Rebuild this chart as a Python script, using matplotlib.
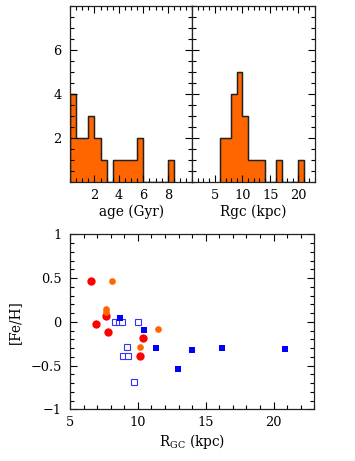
import numpy as np
import matplotlib
matplotlib.use("Agg")
import matplotlib.pyplot as plt
from matplotlib.ticker import MultipleLocator, FixedLocator

plt.rcParams['font.family'] = ['DejaVu Serif']
plt.rcParams['mathtext.fontset'] = 'dejavuserif'
plt.rcParams['axes.unicode_minus'] = True

# ---- histogram data ----
age_edges = np.arange(0, 9.0, 0.5)           # 0 .. 8.5
age_counts = [4, 2, 2, 3, 2, 1, 0, 1, 1, 1, 1, 2, 0, 0, 0, 0, 1]
rgc_edges = np.arange(6, 22, 1)              # 6 .. 21
rgc_counts = [2, 2, 4, 5, 3, 1, 1, 1, 0, 0, 1, 0, 0, 0, 1]

# ---- scatter data ----
red_x = [6.55, 6.92, 7.68, 7.78, 10.38, 10.16]
red_y = [0.465, -0.03, 0.07, -0.12, -0.19, -0.385]
orange_x = [8.10, 7.63, 7.63, 11.50, 10.19]
orange_y = [0.47, 0.15, 0.11, -0.08, -0.29]
bfill_x = [8.66, 10.48, 11.30, 12.99, 14.02, 16.19, 20.83]
bfill_y = [0.04, -0.095, -0.30, -0.54, -0.32, -0.30, -0.31]
bopen_x = [8.35, 8.60, 8.85, 9.99, 9.23, 8.91, 9.25, 9.72]
bopen_y = [0.0, 0.0, 0.0, 0.0, -0.29, -0.39, -0.39, -0.69]

ORANGE = '#FF6600'
fs = 9.3
lfs = 9.8

fig = plt.figure(figsize=(3.55, 4.61), dpi=100)
axA = fig.add_axes([0.1969, 0.6059, 0.3448, 0.3811])
axB = fig.add_axes([0.5417, 0.6059, 0.3456, 0.3811])
axS = fig.add_axes([0.1972, 0.1121, 0.6882, 0.3796])

def style(ax):
    ax.tick_params(which='both', direction='in', top=True, right=True,
                   labelsize=fs, width=0.8, colors='black')
    ax.tick_params(which='major', length=5)
    ax.tick_params(which='minor', length=2.8)
    for s in ax.spines.values():
        s.set_linewidth(0.9)
        s.set_color('#222222')

# age histogram
axA.stairs(age_counts, age_edges, fill=True, facecolor=ORANGE,
           edgecolor='black', linewidth=0.9)
axA.stairs(age_counts, age_edges, fill=False, color='#222222', linewidth=0.9)
axA.set_xlim(0, 10)
axA.set_ylim(0, 8)
style(axA)
axA.xaxis.set_major_locator(FixedLocator([2, 4, 6, 8]))
axA.xaxis.set_minor_locator(MultipleLocator(0.5))
axA.yaxis.set_major_locator(FixedLocator([2, 4, 6]))
axA.yaxis.set_minor_locator(MultipleLocator(0.5))
axA.tick_params(axis='y', pad=6)
axA.tick_params(axis='x', pad=5)
axA.set_xlabel('age (Gyr)', fontsize=lfs, labelpad=2)

# Rgc histogram
axB.stairs(rgc_counts, rgc_edges, fill=True, facecolor=ORANGE,
           edgecolor='black', linewidth=0.9)
axB.stairs(rgc_counts, rgc_edges, fill=False, color='#222222', linewidth=0.9)
axB.set_xlim(1, 23)
axB.set_ylim(0, 8)
style(axB)
axB.xaxis.set_major_locator(FixedLocator([5, 10, 15, 20]))
axB.xaxis.set_minor_locator(MultipleLocator(1))
axB.yaxis.set_major_locator(FixedLocator([2, 4, 6]))
axB.yaxis.set_minor_locator(MultipleLocator(0.5))
axB.tick_params(axis='y', labelleft=False)
axB.tick_params(axis='x', pad=5)
axB.set_xlabel('Rgc (kpc)', fontsize=lfs, labelpad=2)

# scatter
axS.plot(red_x, red_y, 'o', color='#FF0000', markersize=6.0, markeredgewidth=0, zorder=3)
axS.plot(orange_x, orange_y, 'o', color=ORANGE, markersize=4.8, markeredgewidth=0, zorder=4)
axS.plot(bfill_x, bfill_y, 's', color='#0000FF', markersize=4.3, markeredgewidth=0, zorder=5)
axS.plot(bopen_x, bopen_y, 's', markerfacecolor='white', markeredgecolor='#3333FF',
         markersize=3.8, markeredgewidth=0.8, zorder=2)
axS.set_xlim(5, 23)
axS.set_ylim(-1, 1)
style(axS)
axS.xaxis.set_major_locator(FixedLocator([5, 10, 15, 20]))
axS.xaxis.set_minor_locator(MultipleLocator(1))
axS.yaxis.set_major_locator(FixedLocator([-1, -0.5, 0, 0.5, 1]))
axS.yaxis.set_minor_locator(MultipleLocator(0.1))
axS.set_yticklabels(['\u22121', '\u22120.5', '0', '0.5', '1'])
axS.tick_params(axis='y', pad=6)
axS.tick_params(axis='x', pad=5)
axS.set_xlabel(r'R$_{\mathrm{GC}}$ (kpc)', fontsize=lfs, labelpad=2)
axS.set_ylabel('[Fe/H]', fontsize=lfs, labelpad=6)

fig.savefig('out.png', dpi=100)
